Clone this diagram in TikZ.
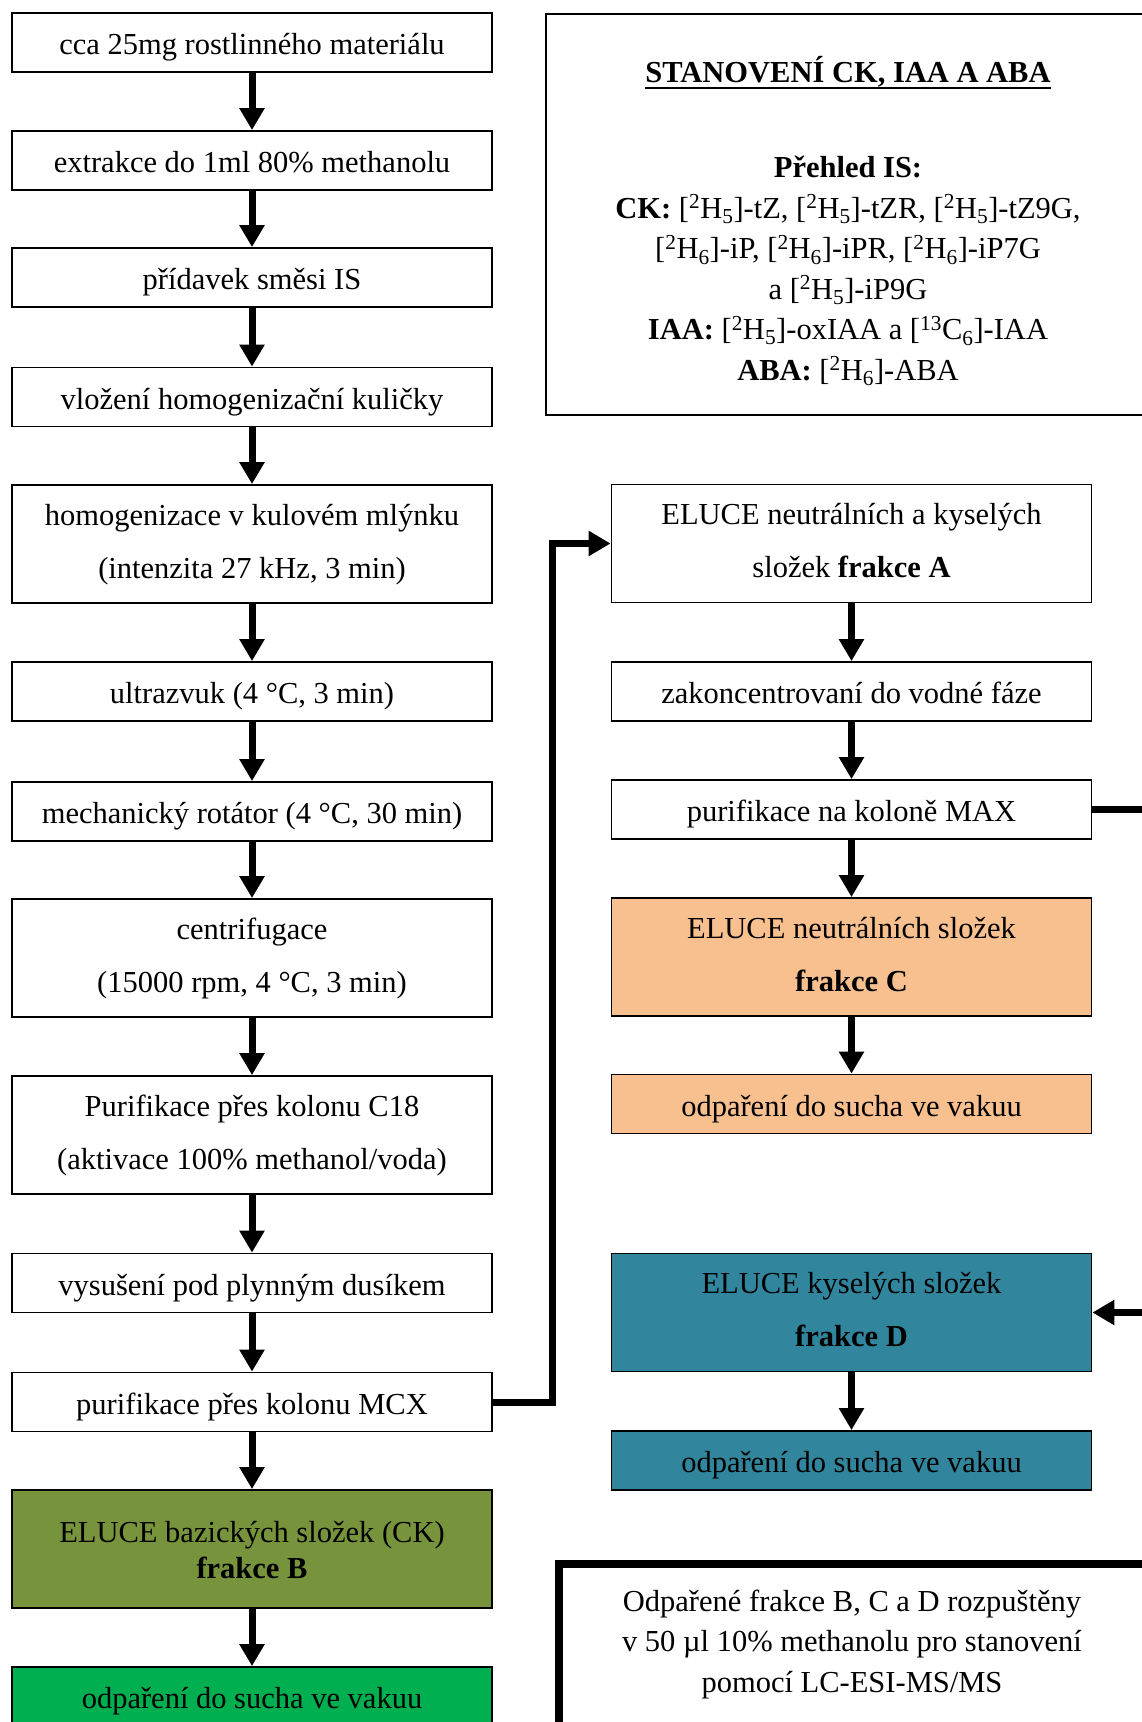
\documentclass[tikz,border=0pt]{standalone}
\usepackage{fontspec}
\setmainfont{Liberation Serif}
\usetikzlibrary{arrows.meta}
\definecolor{fracC}{HTML}{F8BF8F}
\definecolor{fracD}{HTML}{31859C}
\definecolor{fracB}{HTML}{77933C}
\definecolor{dryB}{HTML}{00B050}
\newcommand{\iso}[3]{[\textsuperscript{#1}#2\textsubscript{#3}]}
\begin{document}
\begin{tikzpicture}[x=1pt,y=-1pt,
  box/.style={draw, line width=1.8pt, minimum width=480pt, inner sep=0pt,
    align=center, font=\fontsize{30.5pt}{53pt}\selectfont},
  onebox/.style={box, minimum height=59pt, text height=28pt, text depth=4pt},
  twobox/.style={box, minimum height=118pt, text height=72pt, text depth=4pt},
  tightbox/.style={box, minimum height=118pt, text height=62pt, text depth=4pt,
    font=\fontsize{30.5pt}{36pt}\selectfont},
  flow/.style={line width=7pt, line join=miter,
    -{Triangle[width=24pt,length=22pt]}},
  txt/.style={align=center, inner sep=0pt, font=\fontsize{30.5pt}{40.5pt}\selectfont}]
\useasboundingbox (0,0) rectangle (1142,1722);
\clip (0,0) rectangle (1142,1722);
\fill[white] (0,0) rectangle (1142,1722);

% main extraction sequence
\node[onebox] (s1)  at (252,42.5)  {cca 25mg rostlinného materiálu};
\node[onebox] (s2)  at (252,160.5) {extrakce do 1ml 80\% methanolu};
\node[onebox] (s3)  at (252,277.5) {přídavek směsi IS};
\node[onebox] (s4)  at (252,397)   {vložení homogenizační kuličky};
\node[twobox] (s5)  at (252,544)   {homogenizace v kulovém mlýnku\\(intenzita 27 kHz, 3 min)};
\node[onebox] (s6)  at (252,691.5) {ultrazvuk (4 °C, 3 min)};
\node[onebox] (s7)  at (252,811.5) {mechanický rotátor (4 °C, 30 min)};
\node[twobox] (s8)  at (252,958)   {centrifugace\\(15000 rpm, 4 °C, 3 min)};
\node[twobox] (s9)  at (252,1135)  {Purifikace přes kolonu C18\\(aktivace 100\% methanol/voda)};
\node[onebox] (s10) at (252,1283)  {vysušení pod plynným dusíkem};
\node[onebox] (s11) at (252,1402)  {purifikace přes kolonu MCX};
\node[tightbox, fill=fracB] (s12) at (252,1549)
  {ELUCE bazických složek (CK)\\\textbf{frakce B}};
\node[onebox, fill=dryB] (s13) at (252,1696.5) {odpaření do sucha ve vakuu};

\foreach \a/\b in {s1/s2,s2/s3,s3/s4,s4/s5,s5/s6,s6/s7,s7/s8,s8/s9,s9/s10,s10/s11,s11/s12,s12/s13}
  \draw[flow] (\a.south) -- (\b.north);

% neutral and acidic branch
\node[twobox] (a1) at (851.5,543.5) {ELUCE neutrálních a kyselých\\složek \textbf{frakce A}};
\node[onebox] (a2) at (851.5,691.5) {zakoncentrovaní do vodné fáze};
\node[onebox] (a3) at (851.5,809.5) {purifikace na koloně MAX};
\node[twobox, fill=fracC] (c1) at (851.5,957) {ELUCE neutrálních složek\\\textbf{frakce C}};
\node[onebox, fill=fracC] (c2) at (851.5,1104) {odpaření do sucha ve vakuu};
\node[twobox, fill=fracD] (d1) at (851.5,1312.5) {ELUCE kyselých složek\\\textbf{frakce D}};
\node[onebox, fill=fracD] (d2) at (851.5,1460.5) {odpaření do sucha ve vakuu};

\draw[flow] (a1.south) -- (a2.north);
\draw[flow] (a2.south) -- (a3.north);
\draw[flow] (a3.south) -- (c1.north);
\draw[flow] (c1.south) -- (c2.north);
\draw[flow] (d1.south) -- (d2.north);

\coordinate (mcxturn) at (552,1402);
\draw[flow] (s11.east) -- (mcxturn) |- (a1.west);
\coordinate (maxturn) at (1175,809.5);
\draw[flow] (a3.east) -- (maxturn) |- (d1.east);

% internal standards overview
\node[draw, line width=1.8pt, minimum width=607pt, minimum height=401pt, anchor=north west]
  (isbox) at (545,13) {};
\node[txt, anchor=base] (istitle) at (848,82) {\textbf{STANOVENÍ CK, IAA A ABA}};
\draw[line width=2.6pt] ([yshift=-6pt]istitle.base west) -- ([yshift=-6pt]istitle.base east);
\node[txt, anchor=base] (islist) at (848,380) {\textbf{Přehled IS:}\\
  \textbf{CK:} \iso{2}{H}{5}-tZ, \iso{2}{H}{5}-tZR, \iso{2}{H}{5}-tZ9G,\\
  \iso{2}{H}{6}-iP, \iso{2}{H}{6}-iPR, \iso{2}{H}{6}-iP7G\\
  a \iso{2}{H}{5}-iP9G\\
  \textbf{IAA:} \iso{2}{H}{5}-oxIAA a \iso{13}{C}{6}-IAA\\
  \textbf{ABA:} \iso{2}{H}{6}-ABA};

% final step
\node[draw, line width=8pt, minimum width=620pt, minimum height=240pt, anchor=north west]
  (final) at (555,1560) {};
\node[txt, anchor=base] (finaltext) at (852,1692) {Odpařené frakce B, C a D rozpuštěny\\
  v 50 µl 10\% methanolu pro stanovení\\pomocí LC-ESI-MS/MS};
\end{tikzpicture}
\end{document}
